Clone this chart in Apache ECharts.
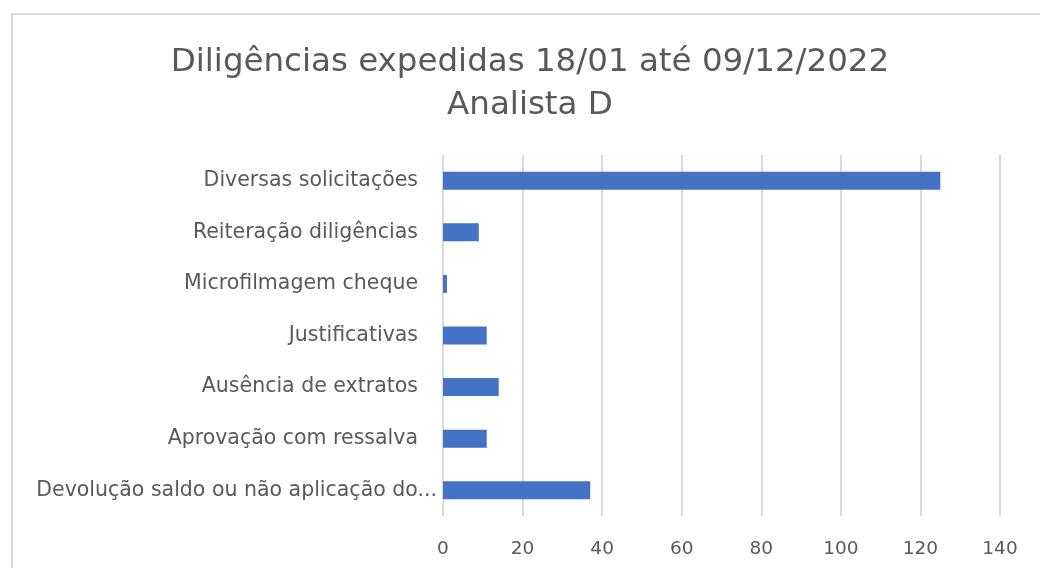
<!DOCTYPE html>
<html>
<head>
<meta charset="utf-8">
<script src="https://cdn.jsdelivr.net/npm/echarts@6/dist/echarts.min.js"></script>
<style>
  html, body { margin: 0; padding: 0; background: #fff; }
  #chart { width: 1040px; height: 568px; }
</style>
</head>
<body>
<div id="chart"></div>
<script>
const categories = [
  'Devolução saldo ou não aplicação do...',
  'Aprovação com ressalva',
  'Ausência de extratos',
  'Justificativas',
  'Microfilmagem cheque',
  'Reiteração diligências',
  'Diversas solicitações'
];
const values = [37, 11, 14, 11, 1, 9, 125];
const xTicks = { min: 0, max: 140, interval: 20 };

const textColor = '#595959';
const gridColor = '#d9d9d9';
const fontFamily = '"DejaVu Sans", sans-serif';

const chart = echarts.init(document.getElementById('chart'));

chart.setOption({
  animation: false,
  title: {
    text: 'Diligências expedidas 18/01 até 09/12/2022\nAnalista D',
    left: 525,
    top: 36,
    textAlign: 'center',
    textStyle: {
      color: textColor,
      fontFamily,
      fontSize: 32.5,
      fontWeight: 'normal',
      lineHeight: 43
    }
  },
  graphic: [
    {
      type: 'rect',
      shape: { x: 12, y: 14, width: 1100, height: 600 },
      style: { fill: 'none', stroke: gridColor, lineWidth: 2 },
      silent: true,
      z: -1
    }
  ],
  grid: {
    left: 443,
    right: 40,
    top: 155,
    bottom: 52
  },
  xAxis: {
    type: 'value',
    min: xTicks.min,
    max: xTicks.max,
    interval: xTicks.interval,
    axisLine: { show: false },
    axisTick: { show: false },
    axisLabel: {
      color: textColor,
      fontFamily,
      fontSize: 18.5,
      margin: 24
    },
    splitLine: {
      lineStyle: { color: gridColor, width: 2 }
    }
  },
  yAxis: {
    type: 'category',
    data: categories,
    axisLine: { show: false },
    axisTick: { show: false },
    axisLabel: {
      color: textColor,
      fontFamily,
      fontSize: 20.5,
      margin: 6,
      formatter: v => (v.endsWith('...') ? `{b|${v}}` : `{a|${v}}`),
      rich: {
        a: { color: textColor, fontFamily, fontSize: 20.5, padding: [0, 19, 0, 0] },
        b: { color: textColor, fontFamily, fontSize: 20.5 }
      }
    }
  },
  series: [
    {
      type: 'bar',
      data: values,
      barWidth: 18,
      itemStyle: { color: '#4472c4' }
    }
  ]
});
</script>
</body>
</html>
